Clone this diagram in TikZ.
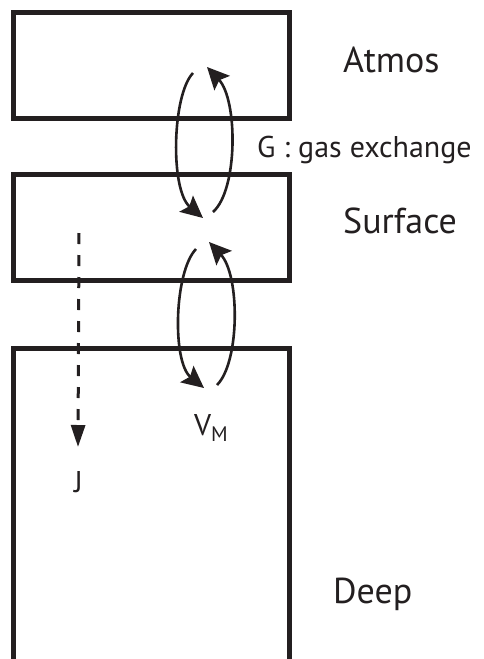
\documentclass[tikz,border=0pt]{standalone}
\usepackage{fontspec}
\setmainfont{PT Sans}
\usetikzlibrary{arrows.meta}
\definecolor{ink}{HTML}{231F20}
\begin{document}
\begin{tikzpicture}[x=1pt,y=-1pt,
  boxline/.style={draw=ink, line width=5pt},
  bigtext/.style={inner sep=0pt, anchor=base west, text=ink, font=\fontsize{36}{40}\selectfont},
  smalltext/.style={inner sep=0pt, anchor=base west, text=ink, font=\fontsize{30}{34}\selectfont},
  loop/.style={line width=2.6pt, draw=ink, -{Stealth[length=22pt,width=21pt,inset=4pt]}},
  flux/.style={line width=3pt, draw=ink, dash pattern=on 11pt off 11pt, -{Triangle[length=22pt,width=14pt]}}]
\useasboundingbox (0,0) rectangle (483,659);
\clip (0,0) rectangle (483,659);
% boxes
\node[boxline, minimum width=276pt, minimum height=105.5pt, inner sep=0pt] (atmos) at (151.5,65.25) {};
\node[boxline, minimum width=276pt, minimum height=106pt, inner sep=0pt] (surface) at (151.5,227.5) {};
\draw[boxline] (13.5,700) -- (13.5,348.5) -- (289.5,348.5) -- (289.5,700);
\coordinate (deeptop) at (151.5,348.5);
% labels
\node[bigtext] (tatmos) at (343,72) {Atmos};
\node[bigtext] (tsurf) at (343,233) {Surface};
\node[bigtext] (tdeep) at (333,603) {Deep};
\node[smalltext] (tg) at (257,157) {G : gas exchange};
\node[smalltext] (tj) at (74,492) {J};
\node[smalltext] (tv) at (194,435) {V\textsubscript{M}};
% exchange loops
\coordinate (a1) at (193,73);
\coordinate (a2) at (203,218);
\coordinate (a3) at (213,212);
\coordinate (a4) at (207,67);
\draw[loop] (a1) .. controls (172,95) and (170,190) .. (a2);
\draw[loop] (a3) .. controls (238,190) and (238,100) .. (a4);
\coordinate (b1) at (196,249);
\coordinate (b2) at (204,388);
\coordinate (b3) at (217,385);
\coordinate (b4) at (209,242);
\draw[loop] (b1) .. controls (174,272) and (172,362) .. (b2);
\draw[loop] (b3) .. controls (240,362) and (240,275) .. (b4);
% flux J
\coordinate (j1) at (79,233);
\coordinate (j2) at (78,447);
\draw[flux] (j1) -- (j2);
\end{tikzpicture}
\end{document}
